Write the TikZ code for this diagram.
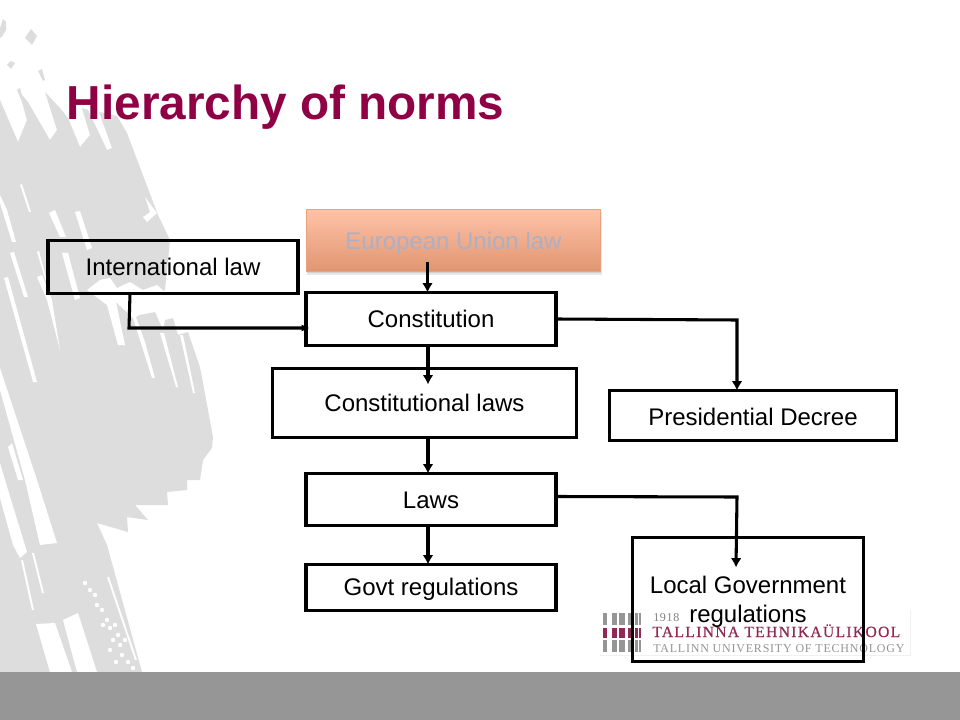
\documentclass[tikz,border=0pt]{standalone}
\usepackage{fontspec}
\setmainfont{Liberation Sans}
\newfontfamily\logofont[LetterSpace=6]{Liberation Serif}
\newfontfamily\logofontb[LetterSpace=8.5,FakeBold=0.4]{Liberation Serif}
\newfontfamily\logofontc[LetterSpace=6.5]{Liberation Serif}
\usetikzlibrary{arrows.meta}
\definecolor{titlered}{HTML}{8F0045}
\definecolor{bggray}{HTML}{DDDDDD}
\definecolor{barGray}{HTML}{969696}
\definecolor{logored}{HTML}{8E2A55}
\definecolor{eutop}{HTML}{FFC3A8}
\definecolor{eumid}{HTML}{F8B596}
\definecolor{eubot}{HTML}{E09570}
\definecolor{eutext}{HTML}{ABB0C6}
\tikzset{
  bx/.style 2 args={draw=black,line width=2.4pt,inner sep=0pt,outer sep=0pt,
    minimum width=#1*0.75pt,minimum height=#2*0.75pt,align=center,
    font=\fontsize{18}{21.6}\selectfont,text=black},
  bl/.style={text height=#1*1.5pt,text depth=0pt},
  conn/.style={draw=black,line width=2.3pt,-{Latex[length=7pt,width=8pt]}},
  logotext/.style={anchor=base west,inner sep=0pt},
  brushcut/.style={fill=white}
}
\begin{document}
\begin{tikzpicture}[x=0.75pt,y=-0.75pt]
\useasboundingbox (0,0) rectangle (960,720);
\fill[white] (0,0) rectangle (960,720);
% background brush shape
\fill[bggray] (0,100)--(18,142)--(27,120)--(22,102)--(17,90)--(20,88)--(22,95)--(28,102)--(50,140)--(57,130)--(45,92)--(60,108)--(68,118)--(80,147)--(90,135)--(82,108)--(88,110)--(107,150)--(112,148)--(99,112)--(117,116)--(127,133)--(158,215)--(170,240)--(165,290)--(155,297)--(132,305)--(140,315)--(155,312)--(163,330)--(165,320)--(173,318)--(178,335)--(188,332)--(200,367)--(213,437)--(212,448)--(203,460)--(200,480)--(187,480)--(187,490)--(167,492)--(168,505)--(135,505)--(148,520)--(127,517)--(128,532)--(97,523)--(107,545)--(142,672)--(0,672)--cycle;
\fill[bggray] (0,28)--(3,19)--(6,22)--(6,30)--(1,38)--(0,37)--cycle
  (25,38)--(31,29)--(37,36)--(32,45)--cycle
  (7,65)--(11,61)--(15,63)--(11,69)--cycle
  (38,71)--(42,69)--(45,80)--(43,81)--cycle;
\fill[brushcut] (20,185)--(22,184)--(31,212)--(29,212)--cycle
  (0,195)--(7,210)--(16,242)--(12,242)--(0,203)--cycle
  (49,213)--(55,210)--(66,237)--(60,237)--cycle
  (75,212)--(80,211)--(92,248)--(87,250)--cycle
  (145,197)--(157,213)--(147,222)--(143,217)--(150,212)--cycle
  (10,253)--(14,252)--(28,297)--(24,297)--cycle
  (4,278)--(8,277)--(37,382)--(33,382)--cycle
  (37,252)--(39,251)--(50,293)--(47,285)--cycle
  (37,277)--(42,275)--(52,300)--(60,350)--(47,300)--cycle
  (62,253)--(68,253)--(80,298)--(75,300)--cycle
  (0,368)--(37,480)--(57,543)--(40,545)--(25,480)--(0,390)--cycle
  (8,447)--(12,443)--(23,480)--(18,480)--cycle
  (0,463)--(5,480)--(27,552)--(20,558)--(13,545)--(0,498)--cycle
  (87,290)--(100,280)--(110,278)--(117,288)--(130,282)--(143,290)--(157,285)--(165,292)--(165,300)--(136,317)--(145,342)--(155,378)--(152,378)--(133,318)--(116,302)--(125,345)--(118,345)--(107,305)--cycle
  (160,333)--(164,333)--(178,387)--(176,387)--cycle
  (180,335)--(183,335)--(195,393)--(193,393)--cycle
  (21,560)--(23,560)--(34,610)--(32,610)--cycle
  (32,553)--(34,553)--(44,593)--(42,593)--cycle
  (36,624)--(55,623)--(72,672)--(50,672)--cycle
  (63,620)--(78,613)--(97,672)--(77,672)--cycle
  (107,577)--(109,577)--(137,660)--(135,660)--cycle;
\foreach \px/\py in {85/583,90/590,95/595,97/605,102/610,107/620,110/628,103/625,115/625,118/635,113/640,120/645,125/640,110/650,122/655,128/662,116/662,133/668}{
  \fill[brushcut] (\px,\py) circle[radius=2.2];}
% footer band
\fill[barGray] (0,672) rectangle (960,720);
% title
\node[anchor=base west,inner sep=0pt,text=titlered,font=\fontsize{35.8}{40}\selectfont\bfseries] (title) at (66.5,119.5) {Hierarchy of norms};
% logo
\fill[white] (600,610) rectangle (910,655);
\draw[black!6,line width=.5pt] (910,610)--(910,655)--(600,655);
\foreach \bx/\bw in {603/4,612/4.5,619/6,628/4.5,635/2.5,639/1.5}{
  \fill[barGray] (\bx,613) rectangle +(\bw,12);
  \fill[logored] (\bx,628) rectangle +(\bw,10);
  \fill[barGray] (\bx,640) rectangle +(\bw,12);
}
\node[logotext,text=black!50,font=\logofont\fontsize{9}{10}\selectfont] (yr) at (653,621.5) {1918};
\node[logotext,text=logored,font=\logofontb\fontsize{11.7}{12}\selectfont] (lna) at (652,637) {TALLINNA TEHNIKAÜLIKOOL};
\node[logotext,text=black!42,font=\logofontc\fontsize{9}{10}\selectfont] (lnb) at (653,652) {TALLINN UNIVERSITY OF TECHNOLOGY};
% European Union law
\fill[black!25,opacity=.35] (307,212) rectangle (602,275);
\fill[black!35,opacity=.35] (307,212) rectangle (601,273.5);
\node[draw=eubot!70!eutop,line width=.6pt,top color=eutop,middle color=eumid,bottom color=eubot,inner sep=0pt,outer sep=0pt,minimum width=221pt,minimum height=47pt,font=\fontsize{18}{21.6}\selectfont,text=eutext,text height=13pt,text depth=0pt] (eu) at (453.5,240.5) {European Union law};
% boxes
\node[bx={250}{53},bl=9] (intl) at (173,267) {International law};
\node[bx={250}{53},bl=8.7] (const) at (431,319) {Constitution};
\node[bx={304}{69},bl=8.6] (claws) at (424.5,403) {Constitutional laws};
\node[bx={287}{50},bl=9.5] (pres) at (753,415.5) {Presidential Decree};
\node[bx={250}{52},bl=9] (laws) at (431,499.5) {Laws};
\node[bx={250}{46},bl=7.5] (govt) at (431,587.5) {Govt regulations};
\node[bx={231}{124}] (local) at (748,599.5) {\rule{0pt}{16pt}Local Government\\regulations};
% connectors
\draw[conn] ([shift={(-26,-10)}]eu.south) -- ([shift={(-3.5,0)}]const.north);
\draw[conn] ([shift={(-3,0)}]const.south) -- ([shift={(3.5,16)}]claws.north);
\draw[conn] ([shift={(3.5,0)}]claws.south) -- ([shift={(-3,0)}]laws.north);
\draw[conn] ([shift={(-3,0)}]laws.south) -- ([shift={(-3,0)}]govt.north);
\draw[conn,-{Latex[length=6pt,width=5.5pt]}] ([shift={(-43,0)}]intl.south) -- (129,328) -- ([shift={(3.5,9)}]const.west);
\draw[conn] (const.east) -- (737,320) -- ([shift={(-16,0)}]pres.north);
\draw[conn] ([shift={(0,-3)}]laws.east) -- (737,497) -- ([shift={(-12,30)}]local.north);
\end{tikzpicture}
\end{document}
